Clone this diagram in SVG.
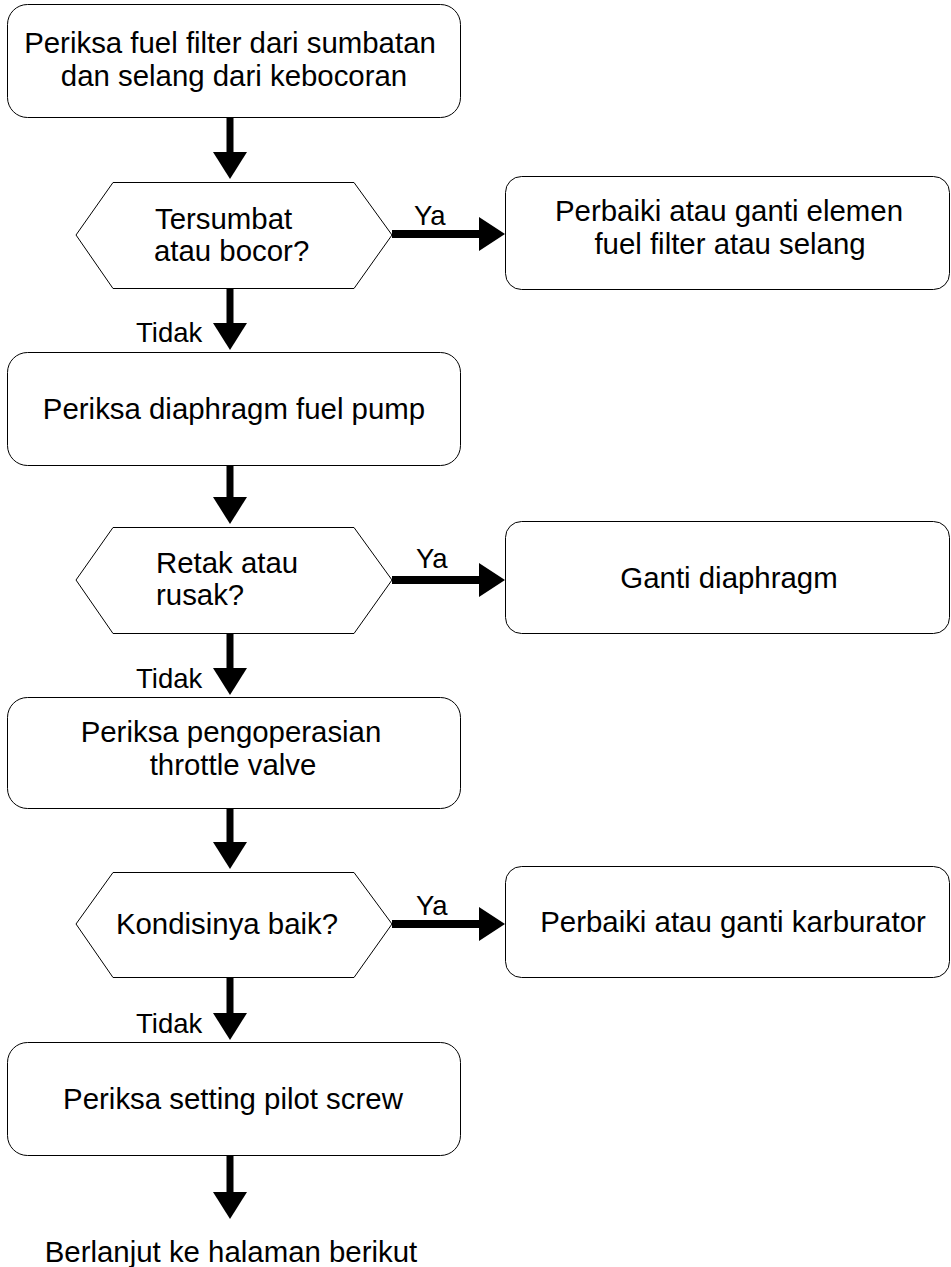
<svg xmlns="http://www.w3.org/2000/svg" width="951" height="1267" viewBox="0 0 951 1267">
<style>
.box{fill:#fff;stroke:#000;stroke-width:1}
.t{font-family:"Liberation Sans",Arial,sans-serif;font-size:29.4px;fill:#000}
.m{text-anchor:middle}
.lbl{font-family:"Liberation Sans",Arial,sans-serif;font-size:27.5px;fill:#000}
.shaft{stroke:#000;stroke-width:7;fill:none}
.hshaft{stroke:#000;stroke-width:8;fill:none}
.head{fill:#000}
</style>
<rect width="951" height="1267" fill="#fff"/>
<g id="n1"><rect class="box" x="7.5" y="4.5" width="453" height="113" rx="20"/>
<text class="t m" x="230" y="53">Periksa fuel filter dari sumbatan</text>
<text class="t m" x="234" y="86">dan selang dari kebocoran</text></g>
<g id="d1"><polygon class="box" points="76,235 113,182.5 354,182.5 392,235 354,288.5 113,288.5"/>
<text class="t" x="155" y="229">Tersumbat</text>
<text class="t" x="154" y="261">atau bocor?</text></g>
<g id="r1"><rect class="box" x="505.5" y="176.5" width="444" height="113" rx="16"/>
<text class="t m" x="729" y="221">Perbaiki atau ganti elemen</text>
<text class="t m" x="730" y="254">fuel filter atau selang</text></g>
<g id="n2"><rect class="box" x="7.5" y="352.5" width="453" height="113" rx="20"/>
<text class="t m" x="234" y="419">Periksa diaphragm fuel pump</text></g>
<g id="d2"><polygon class="box" points="76,580 113,527.5 354,527.5 392,580 354,633.5 113,633.5"/>
<text class="t" x="156" y="573">Retak atau</text>
<text class="t" x="156" y="605">rusak?</text></g>
<g id="r2"><rect class="box" x="505.5" y="521.5" width="444" height="112" rx="16"/>
<text class="t m" x="729" y="588">Ganti diaphragm</text></g>
<g id="n3"><rect class="box" x="7.5" y="697.5" width="453" height="111" rx="20"/>
<text class="t m" x="231" y="742">Periksa pengoperasian</text>
<text class="t m" x="233" y="775">throttle valve</text></g>
<g id="d3"><polygon class="box" points="76,924 113,872.5 354,872.5 392,924 354,977.5 113,977.5"/>
<text class="t m" x="227" y="934">Kondisinya baik?</text></g>
<g id="r3"><rect class="box" x="505.5" y="866.5" width="444" height="111" rx="16"/>
<text class="t m" x="733" y="932">Perbaiki atau ganti karburator</text></g>
<g id="n4"><rect class="box" x="7.5" y="1042.5" width="453" height="113" rx="20"/>
<text class="t m" x="233" y="1109">Periksa setting pilot screw</text></g>
<g id="end"><text class="t m" x="231" y="1262">Berlanjut ke halaman berikut</text></g>
<g id="connectors">
<line class="shaft" x1="230" y1="118" x2="230" y2="153"/><polygon class="head" points="213,152 247,152 230,179"/>
<line class="shaft" x1="230" y1="289" x2="230" y2="324"/><polygon class="head" points="213,323 247,323 230,350"/>
<line class="shaft" x1="230" y1="466" x2="230" y2="498"/><polygon class="head" points="213,497 247,497 230,524"/>
<line class="shaft" x1="230" y1="634" x2="230" y2="669"/><polygon class="head" points="213,668 247,668 230,695"/>
<line class="shaft" x1="230" y1="809" x2="230" y2="843"/><polygon class="head" points="213,842 247,842 230,869"/>
<line class="shaft" x1="230" y1="978" x2="230" y2="1014"/><polygon class="head" points="213,1013 247,1013 230,1040"/>
<line class="shaft" x1="230" y1="1156" x2="230" y2="1193"/><polygon class="head" points="213,1192 247,1192 230,1219"/>
<line class="hshaft" x1="392" y1="234" x2="480" y2="234"/><polygon class="head" points="479,217 479,251 505,234"/>
<line class="hshaft" x1="392" y1="580" x2="480" y2="580"/><polygon class="head" points="479,563 479,597 505,580"/>
<line class="hshaft" x1="392" y1="924" x2="480" y2="924"/><polygon class="head" points="479,907 479,941 505,924"/>
<text class="lbl" x="414" y="225">Ya</text>
<text class="lbl" x="416" y="568">Ya</text>
<text class="lbl" x="416" y="915">Ya</text>
<text class="lbl" x="136" y="342">Tidak</text>
<text class="lbl" x="136" y="688">Tidak</text>
<text class="lbl" x="136" y="1033">Tidak</text>
</g>
</svg>
